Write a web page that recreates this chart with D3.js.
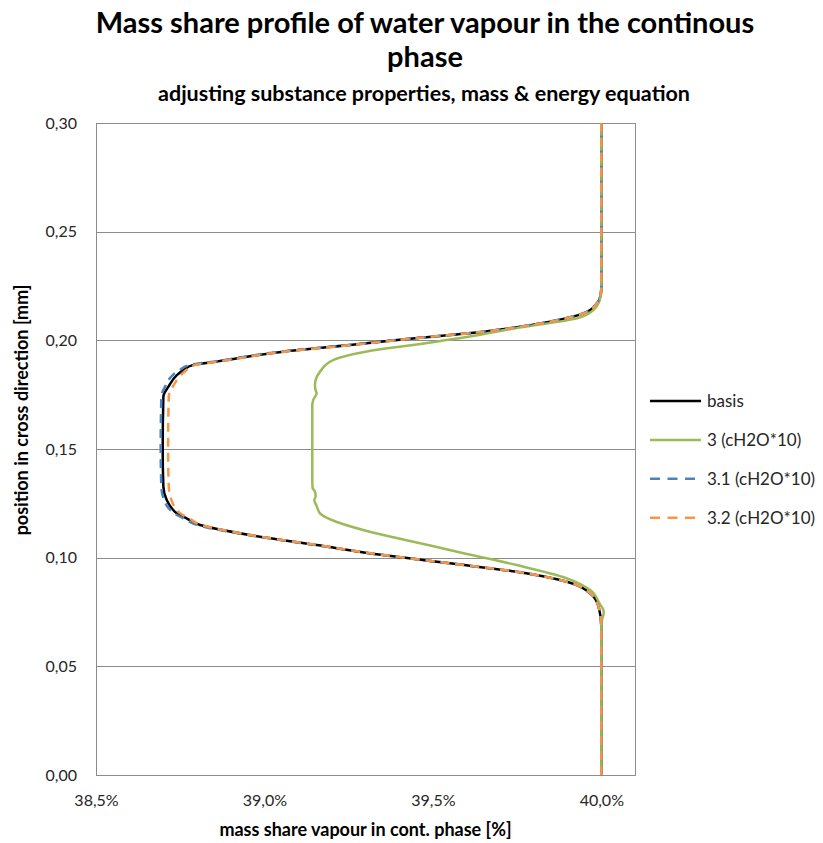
<!DOCTYPE html>
<html>
<head>
<meta charset="utf-8">
<script src="https://cdn.jsdelivr.net/npm/d3@7"></script>
<style>
  html, body { margin: 0; padding: 0; background: #fff; }
  svg { display: block; font-family: Lato, "Liberation Sans", Arial, sans-serif; }
</style>
</head>
<body>
<svg id="chart" width="823" height="843"></svg>
<script>
// Mass share of water vapour (%) against position in cross direction (mm)

const basisPos = [0.000, 0.0682, 0.0774, 0.0836, 0.0889, 0.0935, 0.0974, 0.1012, 0.1058, 0.1104, 0.1150, 0.1181, 0.1204, 0.1227, 0.1265, 0.1327, 0.1500, 0.1741, 0.1787, 0.1840, 0.1863, 0.1887, 0.1902, 0.1948, 0.1978, 0.2006, 0.2040, 0.2086, 0.2124, 0.2170, 0.2190, 0.2240, 0.3000];
const basisVal = [40.000, 40.000, 39.992, 39.967, 39.898, 39.749, 39.551, 39.353, 39.155, 38.957, 38.809, 38.769, 38.740, 38.725, 38.710, 38.700, 38.698, 38.700, 38.715, 38.740, 38.759, 38.789, 38.858, 39.056, 39.254, 39.423, 39.650, 39.848, 39.947, 39.987, 39.995, 40.000, 40.000];

const run3Pos = [0.000, 0.0690, 0.0720, 0.0744, 0.0760, 0.0782, 0.0851, 0.0905, 0.0966, 0.1017, 0.1070, 0.1123, 0.1164, 0.1204, 0.1238, 0.1265, 0.1282, 0.1304, 0.1320, 0.1357, 0.1603, 0.1700, 0.1726, 0.1756, 0.1770, 0.1795, 0.1856, 0.1910, 0.1949, 0.1981, 0.2015, 0.2057, 0.2101, 0.2140, 0.2190, 0.2240, 0.3000];
const run3Val = [40.000, 40.000, 40.003, 40.007, 40.006, 39.997, 39.967, 39.898, 39.749, 39.601, 39.452, 39.304, 39.215, 39.165, 39.155, 39.148, 39.152, 39.150, 39.143, 39.142, 39.142, 39.142, 39.145, 39.155, 39.152, 39.150, 39.165, 39.205, 39.304, 39.452, 39.601, 39.749, 39.928, 39.977, 39.996, 40.000, 40.000];

const run31Pos = basisPos;
const run31Val = [40.000, 40.000, 39.992, 39.966, 39.897, 39.747, 39.549, 39.351, 39.152, 38.952, 38.802, 38.760, 38.732, 38.716, 38.702, 38.694, 38.692, 38.694, 38.705, 38.728, 38.748, 38.780, 38.850, 39.050, 39.250, 39.421, 39.648, 39.846, 39.945, 39.986, 39.995, 40.000, 40.000];

const run32Pos = basisPos;
const run32Val = [40.000, 40.000, 39.992, 39.968, 39.899, 39.750, 39.552, 39.355, 39.157, 38.960, 38.814, 38.776, 38.750, 38.736, 38.724, 38.716, 38.714, 38.716, 38.728, 38.752, 38.768, 38.796, 38.864, 39.060, 39.257, 39.425, 39.652, 39.850, 39.948, 39.987, 39.995, 40.000, 40.000];

const seriesNames = ["basis", "3 (cH2O*10)", "3.1 (cH2O*10)", "3.2 (cH2O*10)"];
const seriesColors = ["#000000", "#9BBB59", "#4F81BD", "#F79646"];
const seriesDash = [null, null, "9,6", "9,6"];

const xTicks = [38.5, 39.0, 39.5, 40.0];
const yTicks = [0.00, 0.05, 0.10, 0.15, 0.20, 0.25, 0.30];

const titleLines = ["Mass share profile of water vapour in the continous", "phase"];
const subtitle = "adjusting substance properties, mass & energy equation";
const xTitle = "mass share vapour in cont. phase [%]";
const yTitle = "position in cross direction [mm]";

const series = [
  [basisPos, basisVal],
  [run3Pos, run3Val],
  [run31Pos, run31Val],
  [run32Pos, run32Val]
].map(([pos, val], i) => ({
  name: seriesNames[i],
  color: seriesColors[i],
  dash: seriesDash[i],
  points: pos.map((p, j) => ({ y: p, x: val[j] }))
}));

const svg = d3.select("#chart");
const plot = { left: 96, right: 635, top: 123, bottom: 775 };

const x = d3.scaleLinear().domain([38.5, 40.1]).range([plot.left, plot.right]);
const y = d3.scaleLinear().domain([0, 0.30]).range([plot.bottom, plot.top]);

const comma = s => s.replace(".", ",");
const textColor = "#262626";

// Titles
svg.append("g").selectAll("text").data(titleLines).join("text")
  .attr("x", 425).attr("y", (d, i) => 33 + i * 34)
  .attr("text-anchor", "middle")
  .attr("font-size", 29).attr("font-weight", "bold").attr("fill", "#000")
  .text(d => d);

svg.append("text")
  .attr("x", 424).attr("y", 101)
  .attr("text-anchor", "middle")
  .attr("font-size", 21.5).attr("font-weight", "bold").attr("fill", "#000")
  .text(subtitle);

// Horizontal gridlines
svg.append("g").selectAll("line").data(yTicks).join("line")
  .attr("x1", plot.left).attr("x2", plot.right)
  .attr("y1", d => Math.round(y(d)) + 0.5).attr("y2", d => Math.round(y(d)) + 0.5)
  .attr("stroke", "#8c8c8c").attr("stroke-width", 1);

// Plot area frame
svg.append("rect")
  .attr("x", plot.left + 0.5).attr("y", plot.top + 0.5)
  .attr("width", plot.right - plot.left).attr("height", plot.bottom - plot.top)
  .attr("fill", "none").attr("stroke", "#8c8c8c").attr("stroke-width", 1);

// Axes
const yAxis = d3.axisLeft(y).tickValues(yTicks).tickSize(0).tickPadding(19)
  .tickFormat(d => comma(d3.format(".2f")(d)));
const yG = svg.append("g").attr("transform", `translate(${plot.left},0)`).call(yAxis);

const xAxis = d3.axisBottom(x).tickValues(xTicks).tickSize(0).tickPadding(20)
  .tickFormat(d => comma(d3.format(".1f")(d)) + "%");
const xG = svg.append("g").attr("transform", `translate(0,${plot.bottom})`).call(xAxis);

[yG, xG].forEach(g => {
  g.select(".domain").remove();
  g.selectAll("text").attr("font-size", 16).attr("fill", textColor)
    .attr("font-family", "Lato, 'Liberation Sans', Arial, sans-serif");
});

// Axis titles
svg.append("text")
  .attr("x", (plot.left + plot.right) / 2).attr("y", 836)
  .attr("text-anchor", "middle")
  .attr("font-size", 18).attr("font-weight", "bold").attr("fill", "#000")
  .text(xTitle);

svg.append("text")
  .attr("transform", "translate(28,410) rotate(-90)")
  .attr("text-anchor", "middle")
  .attr("font-size", 18).attr("font-weight", "bold").attr("fill", "#000")
  .text(yTitle);

// Profiles
const line = d3.line().x(d => x(d.x)).y(d => y(d.y)).curve(d3.curveMonotoneY);

svg.append("g").selectAll("path").data(series).join("path")
  .attr("d", d => line(d.points))
  .attr("fill", "none")
  .attr("stroke", d => d.color)
  .attr("stroke-width", 2.5)
  .attr("stroke-dasharray", d => d.dash)
  .attr("stroke-linejoin", "round");

// Legend
const legend = svg.append("g").attr("transform", "translate(650,401)");
const item = legend.selectAll("g").data(series).join("g")
  .attr("transform", (d, i) => `translate(0,${i * 38.9})`);
item.append("line")
  .attr("x1", 0).attr("x2", 51).attr("y1", 0).attr("y2", 0)
  .attr("stroke", d => d.color).attr("stroke-width", 2.5)
  .attr("stroke-dasharray", d => d.dash ? "10,7.5" : null);
item.append("text")
  .attr("x", 57).attr("y", 0).attr("dy", "0.35em")
  .attr("font-size", 17).attr("fill", textColor)
  .text(d => d.name);
</script>
</body>
</html>
